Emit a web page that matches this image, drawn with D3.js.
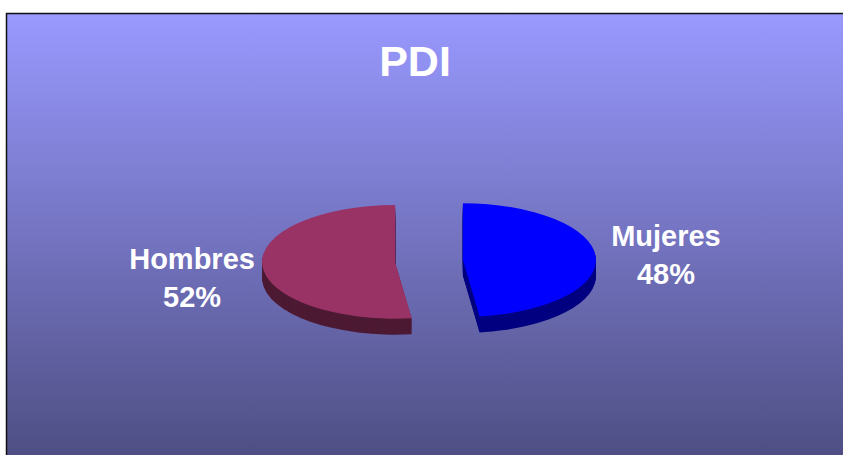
<!DOCTYPE html>
<html>
<head>
<meta charset="utf-8">
<script src="https://cdn.jsdelivr.net/npm/d3@7/dist/d3.min.js"></script>
<style>
  html, body { margin: 0; padding: 0; background: #fff; }
  svg { display: block; }
</style>
</head>
<body>
<script>
// ---- data ----
const title = "PDI";
const categories = ["Mujeres", "Hombres"];
const values = [48, 52];
const topColors = ["#0000FF", "#993366"];
const sideColors = ["#000080", "#4D1A33"];

// ---- layout ----
const W = 843, H = 455;
const cx = 429, cy = 261;
const rx = 133, ry = 56.8;
const depth = 16;
const explode = 34;
const labelGap = 70;
const labelLineH = 38;
const labelYShift = { Mujeres: -15, Hombres: 8 };

const svg = d3.select("body").append("svg").attr("width", W).attr("height", H);

const defs = svg.append("defs");
const grad = defs.append("linearGradient").attr("id", "bg")
  .attr("x1", 0).attr("y1", 0).attr("x2", 0).attr("y2", 1);
grad.append("stop").attr("offset", "0%").attr("stop-color", "#9999FF");
grad.append("stop").attr("offset", "100%").attr("stop-color", "#49497B");

svg.append("rect").attr("x", 6.5).attr("y", 13.5)
  .attr("width", W + 20).attr("height", H + 20)
  .attr("fill", "url(#bg)").attr("stroke", "#111").attr("stroke-width", 1.5);

svg.append("text").attr("x", 415).attr("y", 76)
  .attr("text-anchor", "middle")
  .attr("font-family", "'Liberation Sans', Arial, sans-serif")
  .attr("font-weight", "bold").attr("font-size", 43)
  .attr("fill", "#fff").text(title);

const data = categories.map((c, i) => ({ cat: c, value: values[i], i }));
const pie = d3.pie().value(d => d.value).sort(null).startAngle(0).endAngle(2 * Math.PI);
const arcs = pie(data);
const arc = d3.arc().innerRadius(0).outerRadius(rx);
const total = d3.sum(values);

function center(a) {
  const mid = (a.startAngle + a.endAngle) / 2;
  return { x: cx + Math.sin(mid) * explode, y: cy - Math.cos(mid) * explode * (ry / rx), mid };
}

// sides
const sideG = svg.append("g");
arcs.forEach(a => {
  const c = center(a);
  for (let t = depth; t >= 1; t--) {
    sideG.append("path")
      .attr("d", arc(a))
      .attr("transform", `translate(${c.x},${c.y + t}) scale(1,${ry / rx})`)
      .attr("fill", sideColors[a.data.i]);
  }
});
// tops
const topG = svg.append("g");
arcs.forEach(a => {
  const c = center(a);
  topG.append("path")
    .attr("d", arc(a))
    .attr("transform", `translate(${c.x},${c.y}) scale(1,${ry / rx})`)
    .attr("fill", topColors[a.data.i]);
});

// labels
const fmt = v => Math.round(v / total * 100) + "%";
arcs.forEach(a => {
  const c = center(a);
  const s = Math.sign(Math.sin(c.mid));
  const lx = c.x + s * (rx + labelGap);
  const ly = cy + labelYShift[a.data.cat];
  const t = svg.append("text")
    .attr("text-anchor", "middle")
    .attr("font-family", "'Liberation Sans', Arial, sans-serif")
    .attr("font-weight", "bold").attr("font-size", 29)
    .attr("fill", "#fff");
  t.append("tspan").attr("x", lx).attr("y", ly).text(a.data.cat);
  t.append("tspan").attr("x", lx).attr("y", ly + labelLineH).text(fmt(a.data.value));
});
</script>
</body>
</html>
